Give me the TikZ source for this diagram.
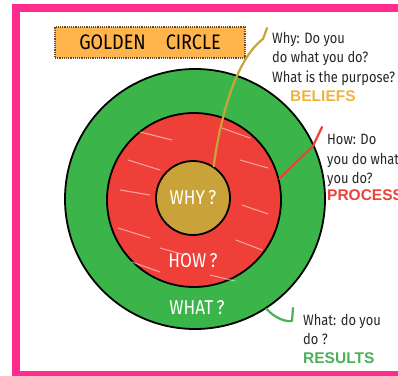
\documentclass[tikz,border=0pt]{standalone}
\usepackage{fontspec}
\setmainfont{Fira Sans}
\newfontfamily\handfont{Fira Sans}[FakeStretch=0.86]
\newfontfamily\tagfont{Liberation Sans}
\usepackage{xcolor}
\usetikzlibrary{arrows.meta,positioning}

\definecolor{framepink}{HTML}{FF2E8E}
\definecolor{whatgreen}{HTML}{3BB44A}
\definecolor{howred}{HTML}{EE4038}
\definecolor{whygold}{HTML}{C9A33A}
\definecolor{titleorange}{HTML}{FFB54C}
\definecolor{boxbrown}{HTML}{6B4A2A}
\definecolor{beliefgold}{HTML}{F0B340}
\definecolor{resultgreen}{HTML}{4CAF5A}

\begin{document}
\begin{tikzpicture}[x=1pt,y=-1pt,
  ring/.style={circle,draw=black,line width=1.8pt,inner sep=0pt},
  big/.style={text=white,font=\handfont\fontsize{20}{22}\selectfont},
  hand/.style={anchor=north west,inner sep=0pt,align=left,text=black!85,font=\handfont\fontsize{15}{19.5}\selectfont},
  tag/.style={anchor=base west,inner sep=0pt,font=\tagfont\bfseries\fontsize{15.5}{18}\selectfont},
  lead/.style={line width=2.2pt,line cap=round,line join=round}]
\useasboundingbox (0,0) rectangle (398,375);
% frame
\draw[framepink,line width=8pt] (16,7.5) rectangle (420,375);

% the three rings
\node[ring,fill=whatgreen,minimum size=260pt] (what) at (195,199) {};
\node[ring,fill=howred,minimum size=174pt] (how) at (194,200) {};
% white scribbles on the red ring
\foreach \a/\b in {{(140,132)/(172,140)},{(128,160)/(160,170)},{(120,190)/(150,195)},
  {(118,228)/(150,238)},{(132,262)/(160,272)},{(222,128)/(250,138)},{(240,160)/(268,168)},
  {(242,205)/(268,214)},{(236,240)/(262,250)},{(210,275)/(235,281)},{(160,248)/(185,255)}}
  \draw[white,opacity=.55,line width=1pt,line cap=round] \a -- \b;
\node[ring,fill=whygold,minimum size=74pt] (why) at (193,198) {};

\node[big] (whylbl) at (why) {WHY\,?};
\node[big] (howlbl) at (193,261) {HOW\,?};
\node[big] (whatlbl) at (197,308) {WHAT\,?};

% title
\node[draw=boxbrown,densely dotted,line width=1.2pt,fill=titleorange,
  minimum width=190pt,minimum height=31pt,inner sep=0pt,
  font=\handfont\fontsize{21}{22}\selectfont] (title) at (150,42.5) {GOLDEN\hspace{20pt}CIRCLE};

% notes on the right
\node[hand] (whytxt) at (272,32) {Why: Do you\\do what you do?\\What is the purpose?};
\node[tag,text=beliefgold] (beliefs) at (290,101) {BELIEFS};
\node[hand] (howtxt) at (327,134) {How: Do\\you do what\\you do?};
\node[tag,text=howred] (process) at (327,200) {PROCESS};
\node[hand] (whattxt) at (303,314) {What: do you\\do ?};
\node[tag,text=resultgreen] (results) at (303,363) {RESULTS};

% leader lines
\coordinate (whyend) at (267,28);
\coordinate (howend) at (322,127);
\coordinate (whatend) at (293,308);
\draw[lead,whygold] (why.57) .. controls (220,120) and (235,60) .. (263,39) -- (whyend);
\draw[lead,howred] (how.14) -- (313,146) -- (howend);
\draw[lead,resultgreen] (what.-57) .. controls (275,318) and (285,322) .. (292,321) -- (whatend);
\end{tikzpicture}
\end{document}
